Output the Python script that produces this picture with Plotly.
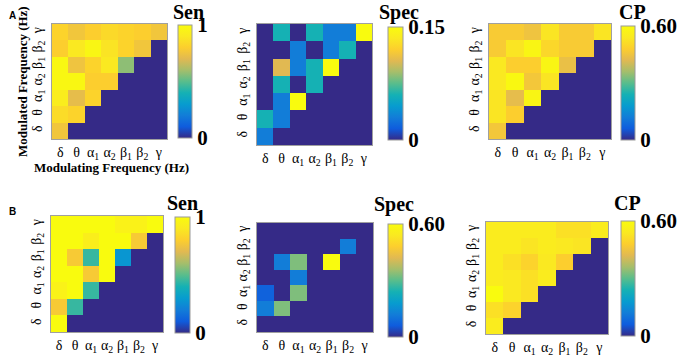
import plotly.graph_objects as go

# ---------------- data (rows bottom->top: δ, θ, α1, α2, β1, β2, γ) ----------------
bands = ["δ", "θ", "α<sub>1</sub>", "α<sub>2</sub>", "β<sub>1</sub>", "β<sub>2</sub>", "γ"]

A_sen = [
    [0.76, 0, 0, 0, 0, 0, 0],
    [0.85, 0.82, 0, 0, 0, 0, 0],
    [0.92, 0.72, 0.82, 0, 0, 0, 0],
    [0.98, 0.98, 0.80, 0.80, 0, 0, 0],
    [0.98, 0.75, 0.82, 0.90, 0.57, 0, 0],
    [0.80, 0.90, 0.97, 0.88, 0.82, 0.76, 0],
    [0.82, 0.76, 0.80, 0.84, 0.82, 0.80, 0.76],
]
A_spec = [
    [0.03, 0, 0, 0, 0, 0, 0],
    [0.06, 0.03, 0, 0, 0, 0, 0],
    [0, 0.03, 0.15, 0, 0, 0, 0],
    [0, 0.06, 0, 0.06, 0, 0, 0],
    [0, 0.105, 0.03, 0.06, 0.15, 0, 0],
    [0, 0, 0.03, 0, 0.03, 0.06, 0],
    [0, 0.06, 0, 0.06, 0.03, 0.03, 0.15],
]
A_cp = [
    [0.46, 0, 0, 0, 0, 0, 0],
    [0.53, 0.48, 0, 0, 0, 0, 0],
    [0.53, 0.43, 0.58, 0, 0, 0, 0],
    [0.54, 0.59, 0.46, 0.53, 0, 0, 0],
    [0.54, 0.48, 0.48, 0.58, 0.44, 0, 0],
    [0.47, 0.53, 0.58, 0.50, 0.47, 0.47, 0],
    [0.47, 0.47, 0.45, 0.53, 0.47, 0.47, 0.53],
]
B_sen = [
    [1.00, 0, 0, 0, 0, 0, 0],
    [0.78, 0.45, 0, 0, 0, 0, 0],
    [0.95, 1.00, 0.45, 0, 0, 0, 0],
    [1.00, 1.00, 0.78, 1.00, 0, 0, 0],
    [1.00, 0.78, 0.45, 1.00, 0.28, 0, 0],
    [1.00, 1.00, 0.93, 1.00, 1.00, 0.78, 0],
    [1.00, 1.00, 1.00, 1.00, 0.95, 0.95, 1.00],
]
B_spec = [
    [0, 0, 0, 0, 0, 0, 0],
    [0.12, 0.33, 0, 0, 0, 0, 0],
    [0.07, 0, 0.33, 0, 0, 0, 0],
    [0, 0, 0.12, 0, 0, 0, 0],
    [0, 0.12, 0.33, 0, 0.60, 0, 0],
    [0, 0, 0, 0, 0, 0.12, 0],
    [0, 0, 0, 0, 0, 0, 0],
]
B_cp = [
    [0.55, 0, 0, 0, 0, 0, 0],
    [0.52, 0.49, 0, 0, 0, 0, 0],
    [0.60, 0.54, 0.52, 0, 0, 0, 0],
    [0.55, 0.54, 0.52, 0.55, 0, 0, 0],
    [0.55, 0.52, 0.49, 0.54, 0.48, 0, 0],
    [0.55, 0.55, 0.53, 0.55, 0.54, 0.53, 0],
    [0.55, 0.55, 0.55, 0.55, 0.52, 0.52, 0.55],
]

matrices = [A_sen, A_spec, A_cp, B_sen, B_spec, B_cp]
titles = ["Sen", "Spec", "CP", "Sen", "Spec", "CP"]
zmaxes = [1.0, 0.15, 0.60, 1.0, 0.60, 0.60]
cb_labels = [["0", "1"], ["0", "0.15"], ["0", "0.60"], ["0", "1"], ["0", "0.60"], ["0", "0.60"]]

# ---------------- layout (pixels) ----------------
W, H = 677, 361
heat_box = [(52, 24, 167, 139), (257, 24, 372, 145), (489, 24, 611, 139),
            (51, 216, 163, 332), (257, 223, 373, 332), (486, 222, 608, 334)]
cbar_box = [(178, 25, 192, 138), (388, 27, 403, 140), (621, 26, 635, 140),
            (175, 217, 190, 333), (388, 224, 403, 337), (621, 221, 635, 336)]
title_pos = [(188, 12), (399, 12), (632, 12), (183, 203), (394, 204), (627, 203)]

parula = [
    [0.0, "rgb(53,42,135)"], [0.1, "rgb(15,92,221)"], [0.2, "rgb(18,125,216)"],
    [0.3, "rgb(7,156,207)"], [0.4, "rgb(21,177,180)"], [0.5, "rgb(89,189,140)"],
    [0.6, "rgb(165,190,107)"], [0.7, "rgb(225,185,82)"], [0.8, "rgb(252,206,46)"],
    [0.9, "rgb(250,233,33)"], [1.0, "rgb(249,251,14)"],
]

SERIF = "Liberation Serif, DejaVu Serif, serif"

fig = go.Figure()
layout_axes = {}
annotations = []
idx = list(range(7))
for k in range(6):
    n = "" if k == 0 else str(k + 1)
    x0, y0, x1, y1 = heat_box[k]
    cx0, cy0, cx1, cy1 = cbar_box[k]
    fig.add_trace(go.Heatmap(
        z=matrices[k], x=idx, y=idx,
        colorscale=parula, zmin=0, zmax=zmaxes[k],
        xaxis="x" + n, yaxis="y" + n,
        hoverinfo="skip",
        colorbar=dict(
            x=cx0 / W, xanchor="left", xpad=0,
            y=1 - cy0 / H, yanchor="top", ypad=0,
            len=(cy1 - cy0) / H, lenmode="fraction",
            thickness=cx1 - cx0, thicknessmode="pixels",
            outlinewidth=1, outlinecolor="#9a9a9a",
            tickvals=[0, zmaxes[k]], ticktext=["<b>%s</b>" % t for t in cb_labels[k]],
            ticks="",
            tickfont=dict(family=SERIF, size=21, color="black"),
        ),
    ))
    common = dict(
        tickvals=idx, ticktext=bands, showgrid=False, zeroline=False,
        showline=True, mirror=True, linecolor="#a0a0a0", linewidth=1,
        ticks="", range=[-0.5, 6.5], fixedrange=True, automargin=False,
        tickfont=dict(family=SERIF, size=14, color="black"),
    )
    layout_axes["xaxis" + n] = dict(common, domain=[x0 / W, x1 / W], anchor="y" + n, ticklabelstandoff=0)
    layout_axes["yaxis" + n] = dict(common, domain=[1 - y1 / H, 1 - y0 / H], anchor="x" + n,
                                    tickangle=-90, ticklabelstandoff=3)
    tx, ty = title_pos[k]
    annotations.append(dict(
        text="<b>%s</b>" % titles[k], x=tx / W, y=1 - ty / H, xref="paper", yref="paper",
        showarrow=False, xanchor="center", yanchor="middle",
        font=dict(family=SERIF, size=20, color="black"),
    ))

annotations += [
    dict(text="<b>A</b>", x=12 / W, y=1 - 15 / H, xref="paper", yref="paper", showarrow=False,
         xanchor="center", yanchor="middle",
         font=dict(family="Liberation Sans", size=10, color="black")),
    dict(text="<b>B</b>", x=12 / W, y=1 - 211 / H, xref="paper", yref="paper", showarrow=False,
         xanchor="center", yanchor="middle",
         font=dict(family="Liberation Sans", size=10, color="black")),
    dict(text="<b>Modulated Frequency (Hz)</b>", x=22 / W, y=1 - 82 / H, xref="paper", yref="paper",
         showarrow=False, textangle=-90, xanchor="center", yanchor="middle",
         font=dict(family=SERIF, size=13, color="black")),
    dict(text="<b>Modulating Frequency (Hz)</b>", x=111 / W, y=1 - 167 / H, xref="paper", yref="paper",
         showarrow=False, xanchor="center", yanchor="middle",
         font=dict(family=SERIF, size=13, color="black")),
]

fig.update_layout(
    width=W, height=H, margin=dict(l=0, r=0, t=0, b=0, autoexpand=False),
    paper_bgcolor="white", plot_bgcolor="white",
    annotations=annotations, showlegend=False,
    **layout_axes,
)
fig.write_html("out.html", config={"displayModeBar": False},
               post_script="document.body.style.margin='0px';document.body.style.overflow='hidden';")
